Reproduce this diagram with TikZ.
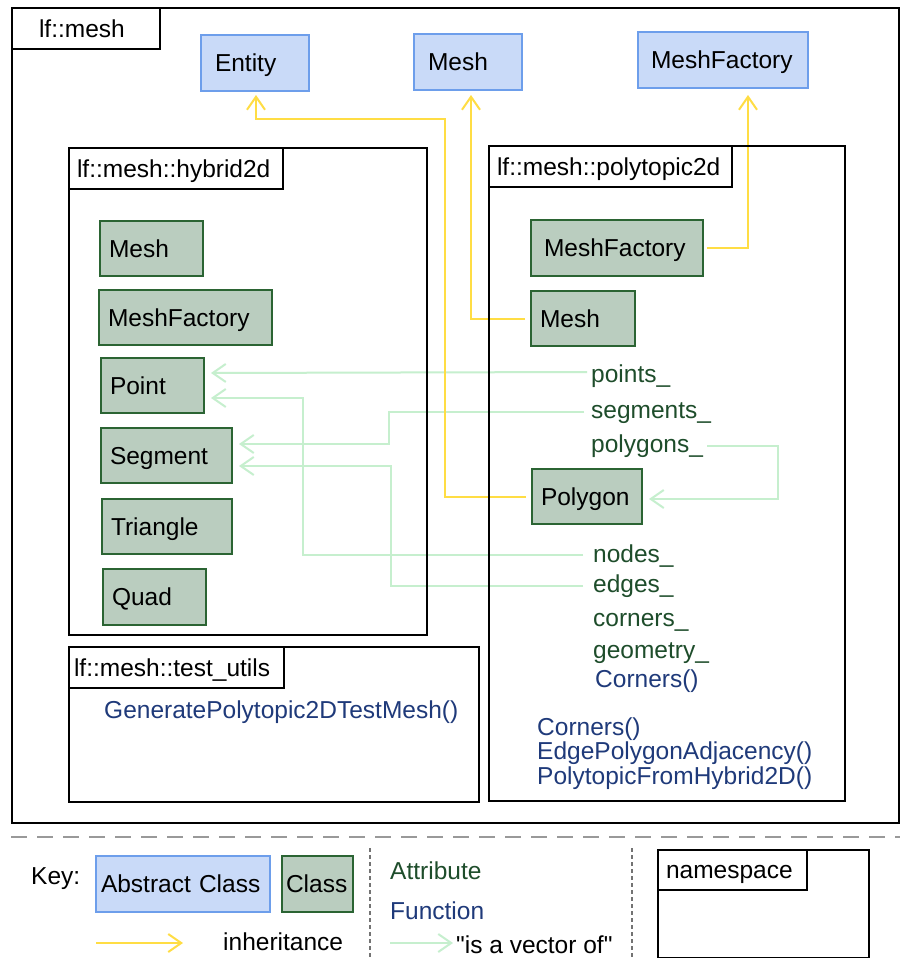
\documentclass[tikz,border=0pt]{standalone}
\usepackage{fontspec}
\setmainfont{Liberation Sans}[Ligatures=TeXOff]
\usetikzlibrary{arrows.meta,calc}
\pgfdeclarelayer{bgfill}
\pgfdeclarelayer{lines}
\pgfsetlayers{bgfill,lines,main}
\definecolor{absfill}{HTML}{C9DAF8}
\definecolor{absline}{HTML}{6D9EEB}
\definecolor{clsfill}{HTML}{BACDBF}
\definecolor{clsline}{HTML}{2B6433}
\definecolor{attrc}{HTML}{1E4D2B}
\definecolor{funcc}{HTML}{1F3A7A}
\definecolor{inhc}{HTML}{FFDD44}
\definecolor{vecc}{HTML}{C6EFCE}
\begin{document}
\begin{tikzpicture}[x=1pt,y=-1pt,
 every node/.style={font=\fontsize{24.5}{29}\selectfont},
 boxbase/.style={anchor=north west, inner ysep=0pt, text height=17.5pt, text depth=0pt, align=left, line width=2pt},
 abscls/.style={boxbase, draw=absline, fill=absfill},
 cls/.style={boxbase, draw=clsline, fill=clsfill},
 nslabel/.style={boxbase, draw=black, fill=white, minimum height=41pt},
 nsframe/.style={draw=black, line width=2pt, anchor=north west, inner sep=0pt},
 attr/.style={anchor=base west, inner sep=0pt, text=attrc},
 func/.style={anchor=base west, inner sep=0pt, text=funcc},
 plain/.style={anchor=base west, inner sep=0pt},
 inh/.style={draw=inhc, line width=2pt, -{Straight Barb[length=13pt,width=18pt]}},
 vec/.style={draw=vecc, line width=2pt, -{Straight Barb[length=13pt,width=18pt]}},
]
\useasboundingbox (0,0) rectangle (900,958);
\begin{pgfonlayer}{bgfill}
\fill[white] (0,0) rectangle (900,958);
\end{pgfonlayer}

% namespace frames
\node[nsframe, minimum width=887pt, minimum height=815pt] (fmesh) at (11,7) {};
\node[nslabel, text width=94pt, inner xsep=27pt] (lmesh) at (11,7) {lf::mesh};
\node[nsframe, minimum width=358pt, minimum height=487pt] (fhyb) at (68,147) {};
\node[nslabel, text width=198pt, inner xsep=8pt] (lhyb) at (68,147) {lf::mesh::hybrid2d};
\node[nsframe, minimum width=356pt, minimum height=655pt] (fpoly) at (488,145) {};
\node[nslabel, text width=227pt, inner xsep=8pt] (lpoly) at (488,145) {lf::mesh::polytopic2d};
\node[nsframe, minimum width=410pt, minimum height=155pt] (ftest) at (68,646) {};
\node[nslabel, text width=205pt, inner xsep=5pt] (ltest) at (68,646) {lf::mesh::test\_utils};

% abstract classes
\node[abscls, text width=80pt, inner xsep=14pt, minimum height=56pt] (aent) at (200,34) {Entity};
\node[abscls, text width=80pt, inner xsep=14pt, minimum height=56pt] (amesh) at (413,33) {Mesh};
\node[abscls, text width=144pt, inner xsep=13pt, minimum height=56pt] (amf) at (637,31) {MeshFactory};

% hybrid2d classes
\node[cls, text width=85pt, inner xsep=9pt, minimum height=55pt] (hmesh) at (99,220) {Mesh};
\node[cls, text width=155pt, inner xsep=9pt, minimum height=55pt] (hmf) at (98,289) {MeshFactory};
\node[cls, text width=85pt, inner xsep=9pt, minimum height=55pt] (hpt) at (100,357) {Point};
\node[cls, text width=113pt, inner xsep=9pt, minimum height=55pt] (hseg) at (100,427) {Segment};
\node[cls, text width=112pt, inner xsep=9pt, minimum height=55pt] (htri) at (101,498) {Triangle};
\node[cls, text width=85pt, inner xsep=9pt, minimum height=56pt] (hquad) at (102,568) {Quad};

% polytopic2d classes
\node[cls, text width=146pt, inner xsep=13pt, minimum height=56pt] (pmf) at (530,219) {MeshFactory};
\node[cls, text width=86pt, inner xsep=9pt, minimum height=55pt] (pmesh) at (530,290) {Mesh};
\node[cls, text width=92pt, inner xsep=9pt, minimum height=55pt] (ppoly) at (531,468) {Polygon};

% attributes and functions
\node[attr] (apts) at (591,382) {points\_};
\node[attr] (asegs) at (591,418) {segments\_};
\node[attr] (apolys) at (591,452) {polygons\_};
\node[attr] (anodes) at (593,562) {nodes\_};
\node[attr] (aedges) at (593,592) {edges\_};
\node[attr] (acorn) at (593,626) {corners\_};
\node[attr] (ageom) at (593,658) {geometry\_};
\node[func] (fcorn1) at (595,687) {Corners()};
\node[func] (fcorn2) at (537,735) {Corners()};
\node[func] (fepa) at (537,759) {EdgePolygonAdjacency()};
\node[func] (fpfh) at (537,784) {PolytopicFromHybrid2D()};
\node[func] (fgen) at (104,718) {GeneratePolytopic2DTestMesh()};

% connectors
\begin{pgfonlayer}{lines}
\draw[vec] ($(apts.base west)+(-4,-10)$) -- ($(hpt.east)+(6,-12.5)$);
\draw[vec] ($(asegs.base west)+(-7,-6)$) -- ++(-195,0) |- ($(hseg.east)+(6,-11.5)$);
\draw[vec] ($(apolys.base east)+(4,-6)$) -| ($(ppoly.east)+(135,2.5)$) -- ($(ppoly.east)+(6,2.5)$);
\draw[vec] ($(anodes.base west)+(-10,-7)$) -| ($(hpt.east)+(98,12.5)$) -- ($(hpt.east)+(6,12.5)$);
\draw[vec] ($(aedges.base west)+(-10,-6)$) -| ($(hseg.east)+(158,10.5)$) -- ($(hseg.east)+(6,10.5)$);
\draw[inh] ($(ppoly.west)+(-5,0)$) -| (445,119) -| ($(aent.south)+(1,3)$);
\draw[inh] ($(pmesh.west)+(-5,0)$) -| ($(amesh.south)+(3,4)$);
\draw[inh] ($(pmf.east)+(3,0)$) -| ($(amf.south)+(25,6)$);
\end{pgfonlayer}

% key
\draw[draw=black!40, line width=2pt, dash pattern=on 16pt off 10pt] (11,837) -- (900,837);
\draw[draw=black!55, line width=1.2pt, dash pattern=on 4pt off 3pt] (370,848) -- (370,958);
\draw[draw=black!55, line width=1.2pt, dash pattern=on 4pt off 3pt] (632,848) -- (632,958);
\node[plain] (key) at (31,884) {Key:};
\node[abscls, text width=164pt, inner xsep=5pt, minimum height=56pt] (kabs) at (95,855) {Abstract Class};
\node[cls, text width=63pt, inner xsep=4pt, minimum height=56pt] (kcls) at (281,855) {Class};
\node[attr] (kattr) at (390,879) {Attribute};
\node[func] (kfunc) at (390,919) {Function};
\coordinate (kia) at (96,943);
\coordinate (kib) at (183,943);
\draw[inh] (kia) -- (kib);
\node[plain] (kinh) at (223,950) {inheritance};
\coordinate (kva) at (390,943);
\coordinate (kvb) at (453,943);
\draw[vec] (kva) -- (kvb);
\node[plain] (kvec) at (456,953) {"is a vector of"};
\node[nsframe, minimum width=211pt, minimum height=108pt] (kns) at (657,849) {};
\node[nslabel, text width=133pt, inner xsep=8pt, minimum height=40pt] (knsl) at (657,849) {namespace};
\end{tikzpicture}
\end{document}
